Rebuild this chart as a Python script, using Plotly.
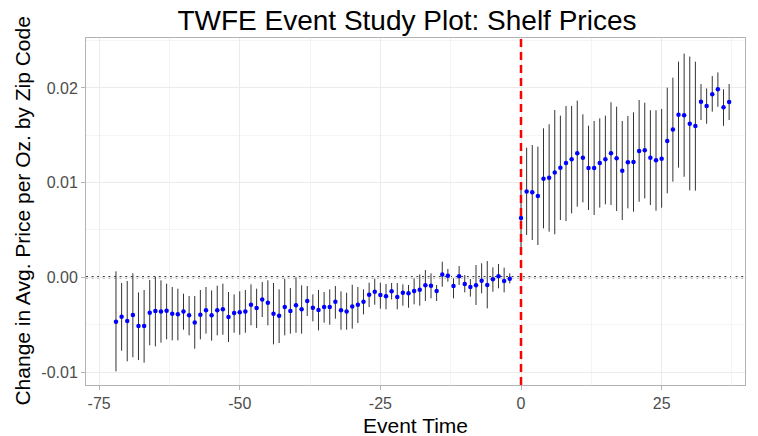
import plotly.graph_objects as go

# Event times relative to treatment; t = -1 is the omitted reference period
event_time = list(range(-72, -1)) + list(range(0, 38))

# TWFE point estimates (change in avg. price per oz., by zip code)
estimate = [
    -0.00468, -0.00416, -0.00461, -0.00398, -0.00514, -0.00514, -0.00373, -0.00356,
    -0.00360, -0.00353, -0.00384, -0.00391, -0.00360, -0.00401, -0.00476, -0.00394,
    -0.00349, -0.00401, -0.00349, -0.00338, -0.00419, -0.00377, -0.00370, -0.00360,
    -0.00289, -0.00324, -0.00233, -0.00268, -0.00384, -0.00405, -0.00314, -0.00356,
    -0.00296, -0.00338, -0.00250, -0.00321, -0.00345, -0.00314, -0.00314, -0.00257,
    -0.00349, -0.00360, -0.00307, -0.00289, -0.00257, -0.00183, -0.00152, -0.00187,
    -0.00201, -0.00148, -0.00208, -0.00162, -0.00169, -0.00145, -0.00131, -0.00085,
    -0.00088, -0.00145, 0.00031, 0.00017, -0.00092, 0.00010, -0.00071, -0.00102,
    -0.00085, -0.00036, -0.00081, -0.00021, 0.00010, -0.00039, -0.00014,
    0.00626, 0.00907, 0.00897, 0.00859, 0.01042, 0.01052, 0.01108, 0.01158,
    0.01207, 0.01246, 0.01309, 0.01263, 0.01154, 0.01154, 0.01207, 0.01246,
    0.01309, 0.01257, 0.01126, 0.01214, 0.01218, 0.01334, 0.01341, 0.01263,
    0.01235, 0.01253, 0.01440, 0.01562, 0.01717, 0.01710, 0.01622, 0.01597,
    0.01855, 0.01809, 0.01932, 0.01985, 0.01795, 0.01851,
]

# Lower bounds of the confidence intervals
ci_lower = [
    -0.00993, -0.00775, -0.00887, -0.00845, -0.00873, -0.00901, -0.00718, -0.00729,
    -0.00690, -0.00655, -0.00666, -0.00666, -0.00553, -0.00613, -0.00754, -0.00655,
    -0.00595, -0.00669, -0.00613, -0.00606, -0.00683, -0.00585, -0.00606, -0.00585,
    -0.00507, -0.00535, -0.00419, -0.00507, -0.00708, -0.00694, -0.00613, -0.00595,
    -0.00585, -0.00595, -0.00409, -0.00465, -0.00560, -0.00479, -0.00500, -0.00437,
    -0.00553, -0.00553, -0.00542, -0.00483, -0.00391, -0.00314, -0.00289, -0.00331,
    -0.00338, -0.00233, -0.00338, -0.00300, -0.00321, -0.00285, -0.00300, -0.00250,
    -0.00222, -0.00250, -0.00099, -0.00046, -0.00222, -0.00081, -0.00159, -0.00204,
    -0.00292, -0.00169, -0.00328, -0.00152, -0.00116, -0.00159, -0.00064,
    0.00250, 0.00447, 0.00394, 0.00341, 0.00517, 0.00482, 0.00454, 0.00605,
    0.00594, 0.00675, 0.00746, 0.00791, 0.00711, 0.00658, 0.00736, 0.00771,
    0.00764, 0.00700, 0.00605, 0.00728, 0.00693, 0.00798, 0.00833, 0.00763,
    0.00703, 0.00735, 0.00887, 0.01010, 0.01158, 0.01062, 0.00918, 0.00915,
    0.01661, 0.01622, 0.01749, 0.01801, 0.01600, 0.01661,
]

# Upper bounds of the confidence intervals
ci_upper = [
    0.00063, -0.00060, -0.00039, 0.00042, -0.00159, -0.00134, -0.00029, 0.00007,
    -0.00032, -0.00067, -0.00102, -0.00120, -0.00173, -0.00197, -0.00197, -0.00134,
    -0.00102, -0.00138, -0.00088, -0.00067, -0.00155, -0.00180, -0.00148, -0.00134,
    -0.00074, -0.00120, -0.00050, -0.00032, -0.00060, -0.00127, -0.00014, -0.00113,
    0.00000, -0.00085, -0.00092, -0.00180, -0.00134, -0.00155, -0.00127, -0.00092,
    -0.00148, -0.00162, -0.00078, -0.00102, -0.00127, -0.00057, -0.00014, -0.00057,
    -0.00071, -0.00060, -0.00060, -0.00074, -0.00081, -0.00011, 0.00031, 0.00077,
    0.00042, -0.00081, 0.00165, 0.00088, -0.00011, 0.00119, 0.00024, -0.00018,
    0.00130, 0.00148, 0.00172, 0.00105, 0.00141, 0.00102, 0.00042,
    0.01000, 0.01369, 0.01397, 0.01380, 0.01573, 0.01616, 0.01766, 0.01707,
    0.01809, 0.01809, 0.01866, 0.01721, 0.01601, 0.01651, 0.01679, 0.01707,
    0.01848, 0.01802, 0.01650, 0.01703, 0.01742, 0.01872, 0.01844, 0.01764,
    0.01764, 0.01778, 0.02003, 0.02108, 0.02277, 0.02362, 0.02331, 0.02277,
    0.02041, 0.01995, 0.02125, 0.02164, 0.01985, 0.02041,
]

x_ticks = [-75, -50, -25, 0, 25]
x_tick_text = ["-75", "-50", "-25", "0", "25"]
y_ticks = [-0.01, 0.0, 0.01, 0.02]
y_tick_text = ["-0.01", "0.00", "0.01", "0.02"]

FONT = "Liberation Sans, Arial, Helvetica, sans-serif"
BORDER = "#b3b3b3"

err_plus = [u - e for u, e in zip(ci_upper, estimate)]
err_minus = [e - l for e, l in zip(estimate, ci_lower)]

fig = go.Figure()
fig.add_trace(go.Scatter(
    x=event_time,
    y=estimate,
    mode="markers",
    marker=dict(color="#0000ff", size=4.5),
    error_y=dict(
        type="data", symmetric=False,
        array=err_plus, arrayminus=err_minus,
        width=0, thickness=1, color="#333333",
    ),
    showlegend=False,
))

# Zero-effect reference line (dotted) and treatment onset (red dashed)
fig.add_shape(type="line", xref="paper", yref="y", x0=0, x1=1, y0=0, y1=0,
              line=dict(color="black", width=2, dash="2px,3.6px"), layer="below")
fig.add_shape(type="line", xref="x", yref="paper", x0=0, x1=0, y0=0, y1=1,
              line=dict(color="#ff0000", width=2.5, dash="8px,5px"), layer="above")

axis_common = dict(
    showline=True, mirror=True, linecolor=BORDER, linewidth=1,
    ticks="outside", ticklen=4, tickcolor=BORDER, tickwidth=1,
    showgrid=True, gridcolor="#ebebeb", gridwidth=1,
    zeroline=False,
    tickfont=dict(family=FONT, size=16, color="#4d4d4d"),
)

fig.update_layout(
    width=758, height=436,
    margin=dict(l=86, r=13, t=38, b=51),
    paper_bgcolor="white", plot_bgcolor="white",
    font=dict(family=FONT),
    title=dict(
        text="TWFE Event Study Plot: Shelf Prices",
        x=0.487, xref="paper", xanchor="center",
        y=1 - 20 / 436, yref="container", yanchor="middle",
        font=dict(family=FONT, size=28, color="black"),
    ),
    xaxis=dict(
        range=[-77.33, 39.82],
        tickmode="array", tickvals=x_ticks, ticktext=x_tick_text,
        minor=dict(tickmode="array", tickvals=[-62.5, -37.5, -12.5, 12.5, 37.5],
                   showgrid=True, gridcolor="#f4f4f4", gridwidth=0.6, ticks=""),
        **axis_common,
    ),
    yaxis=dict(
        range=[-0.01137, 0.02527],
        tickmode="array", tickvals=y_ticks, ticktext=y_tick_text,
        minor=dict(tickmode="array", tickvals=[-0.005, 0.005, 0.015, 0.025],
                   showgrid=True, gridcolor="#f4f4f4", gridwidth=0.6, ticks=""),
        **axis_common,
    ),
    annotations=[
        dict(text="Event Time", xref="paper", yref="paper", x=0.5, y=-0.118,
             xanchor="center", yanchor="middle", showarrow=False,
             font=dict(family=FONT, size=21, color="black")),
        dict(text="Change in Avg. Price per Oz. by Zip Code", xref="paper", yref="paper",
             x=-0.097, y=0.5, xanchor="center", yanchor="middle", textangle=-90,
             showarrow=False, font=dict(family=FONT, size=21, color="black")),
    ],
)

fig.write_html("out.html")
